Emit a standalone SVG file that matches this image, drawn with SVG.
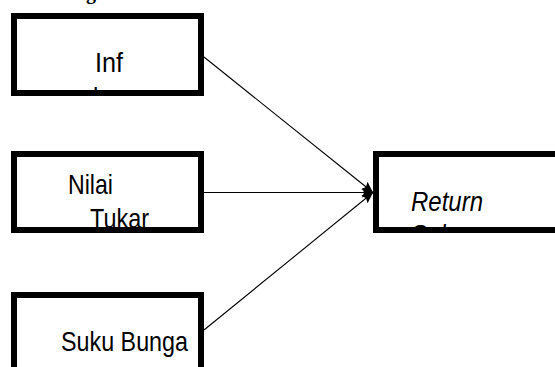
<svg xmlns="http://www.w3.org/2000/svg" width="555" height="367" viewBox="0 0 555 367">
  <style>
    .box { fill: #fff; stroke: #000; stroke-width: 6; }
    .lbl { font-family: "Liberation Sans", Arial, sans-serif; font-size: 28.5px; fill: #000; }
    .it { font-style: italic; }
    .conn { stroke: #000; stroke-width: 1.1; fill: none; marker-end: url(#ah); }
  </style>
  <defs>
    <marker id="ah" viewBox="0 0 11 10" refX="11" refY="5" markerWidth="11" markerHeight="10" markerUnits="userSpaceOnUse" orient="auto">
      <path d="M0,0 L11,5 L0,10 L2,5 Z" fill="#000"/>
    </marker>
    <clipPath id="c1"><rect x="17" y="19" width="181" height="71"/></clipPath>
    <clipPath id="c1b"><rect x="17" y="19" width="85" height="71"/></clipPath>
    <clipPath id="c2"><rect x="17" y="157" width="181" height="70"/></clipPath>
    <clipPath id="c4"><rect x="379" y="157" width="181" height="70"/></clipPath>
  </defs>
  <rect width="555" height="367" fill="#fff"/>
  <text x="86" y="-1" font-family="Liberation Serif, serif" font-weight="bold" font-size="20">g</text>
  <g id="connectors">
    <line class="conn" x1="204" y1="57" x2="373" y2="192.5"/>
    <line class="conn" x1="204" y1="192.5" x2="373" y2="192.5"/>
    <line class="conn" x1="204" y1="330" x2="373" y2="192.5"/>
  </g>
  <g id="node-inflasi">
    <rect class="box" x="14" y="16" width="187" height="77"/>
    <g clip-path="url(#c1)">
      <text class="lbl" x="95" y="72" textLength="28" lengthAdjust="spacingAndGlyphs">Inf</text>
    </g>
    <g clip-path="url(#c1b)">
      <text class="lbl" x="93" y="107" textLength="36" lengthAdjust="spacingAndGlyphs">lasi</text>
    </g>
  </g>
  <g id="node-nilai-tukar">
    <rect class="box" x="14" y="154" width="187" height="76"/>
    <g clip-path="url(#c2)">
      <text class="lbl" x="68" y="194" textLength="45" lengthAdjust="spacingAndGlyphs">Nilai</text>
      <text class="lbl" x="90" y="228" textLength="59" lengthAdjust="spacingAndGlyphs">Tukar</text>
    </g>
  </g>
  <g id="node-suku-bunga">
    <rect class="box" x="14" y="295" width="187" height="80"/>
    <text class="lbl" x="61" y="351" textLength="127" lengthAdjust="spacingAndGlyphs">Suku Bunga</text>
  </g>
  <g id="node-return-saham">
    <rect class="box" x="376" y="154" width="187" height="76"/>
    <g clip-path="url(#c4)">
      <text class="lbl it" x="411" y="211" textLength="72" lengthAdjust="spacingAndGlyphs">Return</text>
      <text class="lbl it" x="411" y="244" textLength="76" lengthAdjust="spacingAndGlyphs">Saham</text>
    </g>
  </g>
</svg>
